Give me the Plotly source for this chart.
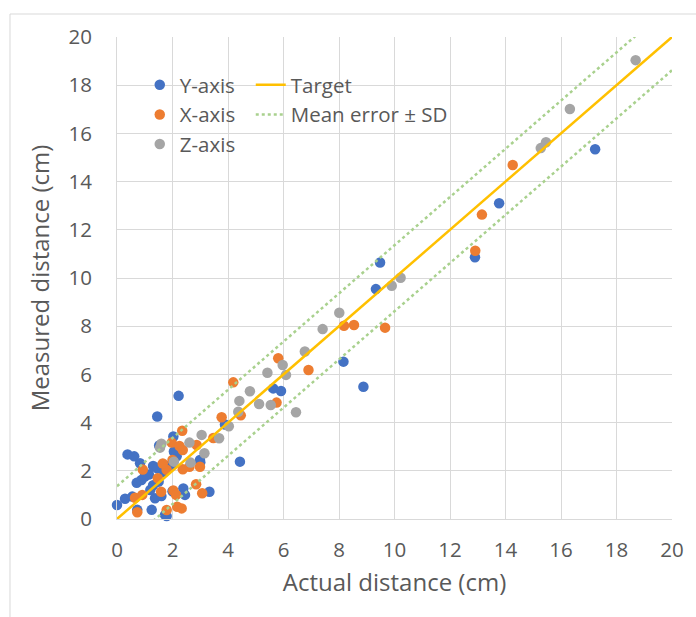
import plotly.graph_objects as go

# ---------------- data ----------------
y_axis_x = [0.0, 0.29, 0.55, 0.38, 0.62, 0.83, 0.71, 0.88, 1.0, 1.15, 0.73, 1.25, 1.73, 1.79, 1.37,
            1.45, 1.52, 2.22, 2.03, 1.3, 1.45, 1.6, 1.7, 1.5, 1.3, 1.95, 2.15, 2.05, 1.2, 1.6,
            2.39, 2.45, 2.0, 3.33, 2.99, 3.0, 4.43, 3.89, 5.63, 5.91, 8.16, 8.88, 9.33, 9.48,
            12.9, 13.77, 17.23]
y_axis_y = [0.58, 0.84, 0.93, 2.68, 2.60, 2.31, 1.50, 1.62, 1.76, 1.85, 0.38, 0.38, 0.17, 0.12, 0.86,
            4.25, 3.05, 5.11, 3.42, 2.2, 2.1, 2.2, 1.95, 1.55, 1.4, 2.25, 2.6, 2.8, 1.2, 0.95,
            1.27, 1.0, 1.15, 1.13, 2.45, 2.35, 2.38, 3.92, 5.42, 5.31, 6.53, 5.49, 9.54, 10.64,
            10.86, 13.1, 15.34]

x_axis_x = [0.65, 0.91, 0.73, 0.93, 1.47, 1.79, 1.59, 1.79, 2.03, 2.13, 2.17, 2.33, 2.85, 3.07,
            2.37, 2.61, 2.99, 1.97, 2.25, 2.37, 2.87, 3.47, 2.35, 3.77, 4.19, 4.46, 5.75, 5.81,
            6.9, 8.18, 8.54, 9.66, 12.91, 13.15, 14.26, 2.0, 1.65]
x_axis_y = [0.88, 1.0, 0.28, 2.05, 1.69, 2.04, 1.13, 0.37, 1.18, 1.0, 0.51, 0.44, 1.44, 1.07,
            2.06, 2.17, 2.17, 3.17, 3.03, 2.86, 3.07, 3.36, 3.66, 4.22, 5.67, 4.30, 4.83, 6.67,
            6.18, 8.02, 8.05, 7.94, 11.13, 12.63, 14.69, 2.45, 2.3]

z_axis_x = [1.55, 1.6, 2.05, 2.65, 2.61, 3.05, 3.15, 3.68, 4.03, 4.37, 4.41, 4.79, 5.12, 5.54,
            5.42, 6.09, 5.97, 6.45, 6.77, 7.41, 8.01, 9.9, 10.22, 15.27, 15.46, 16.32, 18.69]
z_axis_y = [2.96, 3.12, 2.38, 2.34, 3.17, 3.49, 2.73, 3.35, 3.85, 4.45, 4.9, 5.3, 4.77, 4.73,
            6.07, 5.98, 6.39, 4.43, 6.95, 7.88, 8.56, 9.68, 10.01, 15.39, 15.63, 17.01, 19.04]

target_x = [0, 20]
target_y = [0, 20]
mean_error = -0.01
sd_error = 1.37

tick_vals = [0, 2, 4, 6, 8, 10, 12, 14, 16, 18, 20]

# ---------------- styling ----------------
TXT = "#595959"
GRID = "#D9D9D9"
FONT = "Open Sans"

fig = go.Figure()

def add_pts(xs, ys, name, color):
    fig.add_trace(go.Scatter(x=xs, y=ys, mode="markers", name=name, legend="legend",
                             marker=dict(color=color, size=10.5, line=dict(width=0)),
                             cliponaxis=False))

add_pts(y_axis_x, y_axis_y, "Y-axis", "#4472C4")
add_pts(x_axis_x, x_axis_y, "X-axis", "#ED7D31")
add_pts(z_axis_x, z_axis_y, "Z-axis", "#A5A5A5")

fig.add_trace(go.Scatter(x=target_x, y=target_y, mode="lines", name="Target", legend="legend2",
                         line=dict(color="#FFC000", width=2.5)))
upper = [t + mean_error + sd_error for t in target_x]
lower = [t + mean_error - sd_error for t in target_x]
fig.add_trace(go.Scatter(x=target_x, y=upper, mode="lines", name="Mean error ± SD", legend="legend2",
                         line=dict(color="#A9D18E", width=2.5, dash="dot")))
fig.add_trace(go.Scatter(x=target_x, y=lower, mode="lines", name="Mean error ± SD", legend="legend2",
                         showlegend=False,
                         line=dict(color="#A9D18E", width=2.5, dash="dot")))

axis_common = dict(range=[0, 20], tickvals=tick_vals, showgrid=True, gridcolor=GRID, gridwidth=1,
                   showline=True, linecolor=GRID, linewidth=1, zeroline=False, ticks="",
                   tickfont=dict(family=FONT, size=20.5, color=TXT), fixedrange=True)

fig.update_xaxes(**axis_common, ticklabelstandoff=12,
                 title=dict(text="Actual distance (cm)", font=dict(family=FONT, size=24, color=TXT),
                            standoff=12))
fig.update_yaxes(**axis_common, ticklabelstandoff=20,
                 title=dict(text="Measured distance (cm)", font=dict(family=FONT, size=24, color=TXT),
                            standoff=12))

leg_font = dict(family=FONT, size=20.5, color=TXT)
fig.update_layout(
    width=696, height=617,
    margin=dict(l=117, r=24, t=37, b=98, autoexpand=False),
    plot_bgcolor="white", paper_bgcolor="white",
    font=dict(family=FONT, color=TXT),
    legend=dict(x=0.041, y=0.942, xanchor="left", yanchor="top", bgcolor="rgba(0,0,0,0)",
                font=leg_font, orientation="v", traceorder="normal"),
    legend2=dict(x=0.241, y=0.942, xanchor="left", yanchor="top", bgcolor="rgba(0,0,0,0)",
                 font=leg_font, orientation="v", traceorder="normal"),
    shapes=[
        # white box behind the legend (covers gridlines)
        dict(type="rect", xref="paper", yref="paper", x0=0.018, x1=0.62, y0=0.74, y1=0.967,
             fillcolor="white", line=dict(width=0), layer="between"),
        # outer chart border
        dict(type="rect", xref="paper", yref="paper", x0=-0.1928, x1=1.2, y0=-0.3, y1=1.0477,
             fillcolor="rgba(0,0,0,0)", line=dict(color=GRID, width=1), layer="below"),
    ],
)

fig.write_html("out.html")
